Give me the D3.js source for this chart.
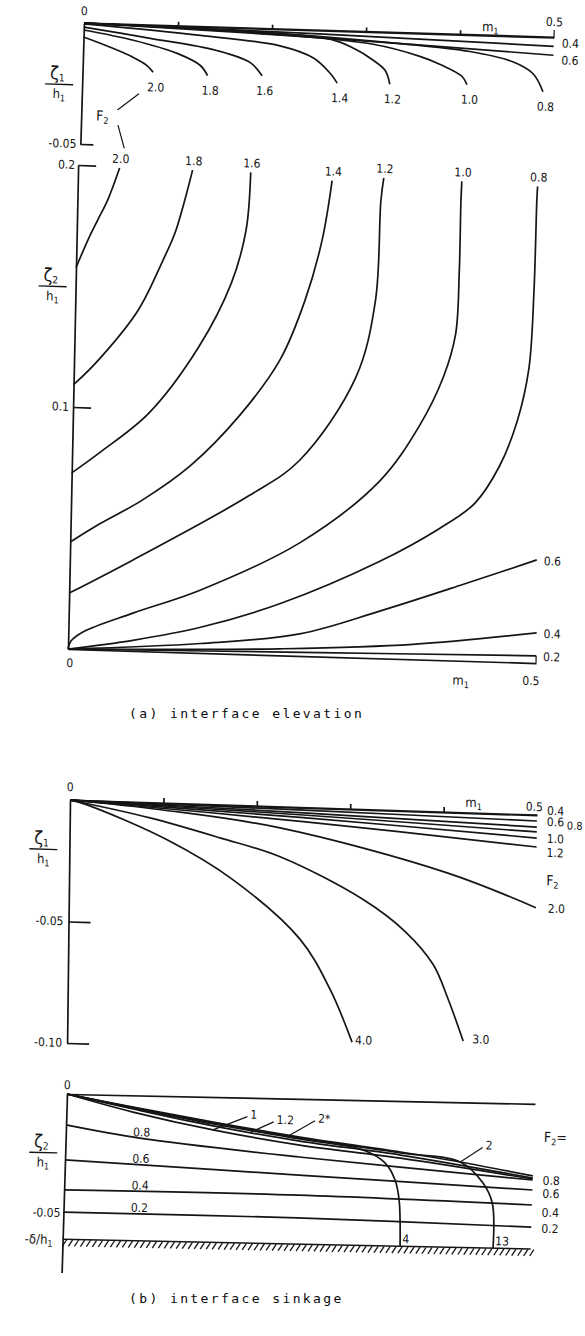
<!DOCTYPE html>
<html>
<head>
<meta charset="utf-8">
<script src="https://cdn.jsdelivr.net/npm/d3@7/dist/d3.min.js"></script>
<style>
  body { margin: 0; background: #fff; }
  svg { display: block; }
  text { font-family: "DejaVu Sans Condensed", "DejaVu Sans", sans-serif; fill: #151515; font-size: 12px; }
  .cap { font-family: "DejaVu Sans Mono", monospace; font-size: 13px; letter-spacing: 2.4px; fill: #0a0a0a; }
</style>
</head>
<body>
<svg id="chart" width="585" height="1336"></svg>
<script>
// m1 runs 0..0.5 on all four plots
var m1Ticks = [0.1, 0.2, 0.3, 0.4];

// (a) interface elevation, top plot: zeta1/h1 against m1, one curve per F2
var elevTopF2 = ['0.4', '0.6', '0.8', '1.0', '1.2', '1.4', '1.6', '1.8', '2.0'];
var elevTop = [
  [[0, 0], [0.25, -0.0016], [0.5, -0.0038]],
  [[0, 0], [0.25, -0.0031], [0.5, -0.0075]],
  [[0, 0], [0.177, -0.0015], [0.334, -0.0045], [0.411, -0.007], [0.457, -0.0107], [0.479, -0.0154], [0.490, -0.0227]],
  [[0, 0], [0.177, -0.0019], [0.308, -0.0052], [0.358, -0.0096], [0.380, -0.0127], [0.4036, -0.0174], [0.409, -0.0207]],
  [[0, 0], [0.124, -0.0012], [0.262, -0.0036], [0.289, -0.0074], [0.307, -0.0114], [0.3215, -0.0158], [0.327, -0.0215]],
  [[0, -0.0004], [0.124, -0.0037], [0.209, -0.007], [0.245, -0.0116], [0.263, -0.0176], [0.271, -0.0217]],
  [[0, -0.0017], [0.071, -0.0055], [0.142, -0.0097], [0.178, -0.0143], [0.191, -0.0196]],
  [[0, -0.0029], [0.053, -0.0065], [0.100, -0.0114], [0.125, -0.0161], [0.133, -0.0202]],
  [[0, -0.0058], [0.028, -0.0096], [0.053, -0.0135], [0.068, -0.0167], [0.075, -0.0195]]
];

// (a) bottom plot: zeta2/h1
var elevBotF2 = ['0.2', '0.4', '0.6', '0.8', '1.0', '1.2', '1.4', '1.6', '1.8', '2.0'];
var elevBot = [
  [[0, 0], [0.25, 0.0015], [0.5, 0.003]],
  [[0, 0], [0.12, 0.0012], [0.2265, 0.0027], [0.368, 0.0062], [0.5, 0.0125]],
  [[0, 0], [0.141, 0.0039], [0.247, 0.0091], [0.332, 0.0195], [0.42, 0.0315], [0.4985, 0.0426]],
  [[0, 0], [0.069, 0.0044], [0.140, 0.0105], [0.225, 0.0213], [0.331, 0.0401], [0.394, 0.0544], [0.4308, 0.0651], [0.4564, 0.0807], [0.4744, 0.0995], [0.4858, 0.1215], [0.4895, 0.1534], [0.4905, 0.1906], [0.491, 0.1968]],
  [[0, 0], [0.003, 0.0033], [0.0156, 0.0072], [0.0685, 0.0156], [0.139, 0.0258], [0.245, 0.0467], [0.329, 0.0732], [0.370, 0.0964], [0.395, 0.1173], [0.4068, 0.1348], [0.4093, 0.1608], [0.4095, 0.1898], [0.41, 0.198]],
  [[0, 0.0231], [0.067, 0.0375], [0.190, 0.0656], [0.2426, 0.0806], [0.301, 0.1155], [0.3204, 0.1475], [0.324, 0.1889], [0.3266, 0.1985]],
  [[0, 0.0442], [0.0307, 0.052], [0.076, 0.0624], [0.1263, 0.0771], [0.1785, 0.0988], [0.22, 0.1221], [0.2454, 0.1471], [0.2622, 0.1721], [0.2715, 0.1967]],
  [[0, 0.0728], [0.0287, 0.0813], [0.0811, 0.0984], [0.1326, 0.1262], [0.1661, 0.153], [0.1807, 0.1751], [0.1844, 0.1991]],
  [[0, 0.1092], [0.0262, 0.1198], [0.0675, 0.1409], [0.0928, 0.1618], [0.1049, 0.1731], [0.1146, 0.1868], [0.1223, 0.1993]],
  [[0, 0.1576], [0.0122, 0.1692], [0.0222, 0.1776], [0.0324, 0.186], [0.0443, 0.1993]]
];

// (b) interface sinkage, top plot: zeta1/h1
var sinkTopF2 = ['0.4', '0.6', '0.8', '1.0', '1.2', '2.0', '3.0', '4.0'];
var sinkTop = [
  [[0, 0], [0.25, -0.0011], [0.5, -0.0025]],
  [[0, 0], [0.25, -0.0022], [0.5, -0.005]],
  [[0, 0], [0.25, -0.0031], [0.5, -0.007]],
  [[0, 0], [0.25, -0.0042], [0.5, -0.0095]],
  [[0, 0], [0.25, -0.0058], [0.5, -0.0132]],
  [[0, 0], [0.0997, -0.0029], [0.2252, -0.0087], [0.4046, -0.025], [0.5, -0.0382]],
  [[0, 0], [0.0859, -0.0063], [0.1611, -0.0136], [0.2256, -0.0206], [0.315, -0.0371], [0.3604, -0.0497], [0.3908, -0.0629], [0.4073, -0.077], [0.4239, -0.094]],
  [[0, 0], [0.0183, -0.0018], [0.1044, -0.0151], [0.1756, -0.0307], [0.2481, -0.0543], [0.2808, -0.0745], [0.305, -0.0959]]
];

// (b) bottom plot: zeta2/h1, the bed lies at -delta/h1
var sinkBotF2 = ['0.2', '0.4', '0.6', '0.8', '1', '1.2', '2', '4', '13'];
var sinkBot = [
  [[0, -0.0496], [0.25, -0.05], [0.5, -0.0518]],
  [[0, -0.0403], [0.25, -0.0404], [0.5, -0.0425]],
  [[0, -0.0277], [0.25, -0.032], [0.5, -0.0362]],
  [[0, -0.013], [0.079, -0.0179], [0.25, -0.0244], [0.5, -0.032]],
  [[0, 0], [0.071, -0.007], [0.157, -0.0138], [0.25, -0.0194], [0.358, -0.024], [0.5, -0.0316]],
  [[0, 0], [0.071, -0.0057], [0.157, -0.0121], [0.25, -0.0177], [0.358, -0.0227], [0.5, -0.0312]],
  [[0, 0], [0.071, -0.0049], [0.157, -0.0105], [0.25, -0.016], [0.358, -0.0214], [0.422, -0.0251], [0.5, -0.0303]],
  [[0, 0], [0.071, -0.0053], [0.157, -0.0113], [0.25, -0.0168], [0.318, -0.0209], [0.342, -0.0262], [0.353, -0.0332], [0.358, -0.0416], [0.3605, -0.061]],
  [[0, 0], [0.071, -0.0051], [0.157, -0.0109], [0.25, -0.0164], [0.358, -0.0218], [0.422, -0.0251], [0.447, -0.0337], [0.4576, -0.0421], [0.4598, -0.061]]
];
var deltaH1 = 0.061;

var svg = d3.select('#chart');
var ink = '#151515';

// each plot sits in its own slightly skewed frame, like the scan
function panel(ox, oy, b, c, xLen, yDom, yRng) {
  var g = svg.append('g').attr('transform', 'matrix(1,' + b + ',' + c + ',1,' + ox + ',' + oy + ')');
  return {
    g: g,
    x: d3.scaleLinear().domain([0, 0.5]).range([0, xLen]),
    y: d3.scaleLinear().domain(yDom).range(yRng)
  };
}

function drawCurves(p, curves) {
  var line = d3.line()
    .x(function(d) { return p.x(d[0]); })
    .y(function(d) { return p.y(d[1]); })
    .curve(d3.curveCatmullRom.alpha(0.5));
  p.g.selectAll('path.curve').data(curves).enter().append('path')
    .attr('class', 'curve')
    .attr('d', line)
    .attr('fill', 'none')
    .attr('stroke', ink)
    .attr('stroke-width', 1.7);
}

function styleAxis(sel) {
  sel.selectAll('path, line').attr('stroke', ink).attr('stroke-width', 1.7);
  sel.selectAll('text').remove();
}

function txt(g, x, y, s, anchor) {
  return g.append('text').attr('x', x).attr('y', y).attr('text-anchor', anchor || 'middle').text(s);
}

function subTxt(g, x, y, main, sub, anchor, size) {
  var t = g.append('text').attr('x', x).attr('y', y).attr('text-anchor', anchor || 'start')
    .style('font-size', (size || 13) + 'px');
  t.append('tspan').text(main);
  t.append('tspan').attr('dy', 3).style('font-size', '9px').text(sub);
  return t;
}

function fraction(g, cx, barY, sub) {
  var top = g.append('text').attr('x', cx - 2).attr('y', barY - 5).attr('text-anchor', 'middle')
    .style('font-size', '18px');
  top.append('tspan').text('ζ');
  top.append('tspan').attr('dy', 2).style('font-size', '10px').text(sub);
  g.append('line').attr('x1', cx - 14).attr('x2', cx + 14).attr('y1', barY).attr('y2', barY)
    .attr('stroke', ink).attr('stroke-width', 1.4);
  var bot = g.append('text').attr('x', cx).attr('y', barY + 14).attr('text-anchor', 'middle')
    .style('font-size', '13px');
  bot.append('tspan').text('h');
  bot.append('tspan').attr('dy', 3).style('font-size', '9px').text('1');
}

function last(pts) { return pts[pts.length - 1]; }

function valueAt(pts, m) {
  for (var i = 1; i < pts.length; i++) {
    if (pts[i][0] >= m) {
      var t = (m - pts[i - 1][0]) / (pts[i][0] - pts[i - 1][0]);
      return pts[i - 1][1] + t * (pts[i][1] - pts[i - 1][1]);
    }
  }
  return last(pts)[1];
}

// ---------- (a) top ----------
var aT = panel(84, 23, 0.03, -0.03, 470, [0, -0.05], [0, 121]);
aT.g.append('g').call(d3.axisTop(aT.x).tickValues(m1Ticks).tickSize(4).tickSizeOuter(0).tickFormat('')).call(styleAxis);
aT.g.select('.domain').attr('stroke-width', 2.4);
aT.g.append('g').call(d3.axisRight(aT.y).tickValues([-0.05]).tickSize(13).tickSizeOuter(0).tickFormat('')).call(styleAxis);
aT.g.append('line').attr('x1', aT.x(0.5)).attr('x2', aT.x(0.5)).attr('y1', -7).attr('y2', 0)
  .attr('stroke', ink).attr('stroke-width', 1.2);
drawCurves(aT, elevTop);
txt(aT.g, 0, -8, '0');
txt(aT.g, aT.x(0.5), -11, '0.5');
subTxt(aT.g, aT.x(0.432), -4, 'm', '1', 'middle');
txt(aT.g, -4, aT.y(-0.05) + 4, '-0.05', 'end');
fraction(aT.g, -23, 62, '1');
elevTop.forEach(function(pts, i) {
  var e = last(pts);
  if (i < 2) {
    txt(aT.g, aT.x(e[0]) + 8, aT.y(e[1]) + (i === 0 ? 1 : 9), elevTopF2[i], 'start');
  } else {
    txt(aT.g, aT.x(e[0]) + 3, aT.y(e[1]) + 19, elevTopF2[i]);
  }
});
subTxt(aT.g, 15, 97, 'F', '2', 'start', 14);
aT.g.append('line').attr('x1', 36).attr('y1', 86).attr('x2', 57).attr('y2', 69).attr('stroke', ink).attr('stroke-width', 1.2);
aT.g.append('line').attr('x1', 37).attr('y1', 101).attr('x2', 44).attr('y2', 124).attr('stroke', ink).attr('stroke-width', 1.2);

// ---------- (a) bottom ----------
var aB = panel(68, 649, 0.03, -0.021, 468, [0, 0.2], [0, -484]);
aB.g.append('g').call(d3.axisBottom(aB.x).tickValues([]).tickSizeOuter(0)).call(styleAxis);
aB.g.append('g').call(d3.axisRight(aB.y).tickValues([0.1, 0.2]).tickSize(18).tickSizeOuter(0).tickFormat('')).call(styleAxis);
aB.g.append('line').attr('x1', aB.x(0.5)).attr('x2', aB.x(0.5)).attr('y1', 0).attr('y2', aB.y(0.003))
  .attr('stroke', ink).attr('stroke-width', 1.2);
drawCurves(aB, elevBot);
txt(aB.g, 2, 18, '0');
subTxt(aB.g, aB.x(0.42), 24, 'm', '1', 'middle');
txt(aB.g, aB.x(0.495), 22, '0.5');
txt(aB.g, -4, aB.y(0.1) + 4, '0.1', 'end');
txt(aB.g, -3, aB.y(0.2) + 4, '0.2', 'end');
fraction(aB.g, -23, -362, '2');
elevBot.forEach(function(pts, i) {
  var e = last(pts);
  if (i < 3) {
    txt(aB.g, aB.x(e[0]) + 7, aB.y(e[1]) + 5, elevBotF2[i], 'start');
  } else {
    txt(aB.g, aB.x(e[0]) + 1, aB.y(e[1]) - 5, elevBotF2[i]);
  }
});

svg.append('text').attr('class', 'cap').attr('x', 129).attr('y', 718).text('(a) interface elevation');

// ---------- (b) top ----------
var bT = panel(70, 800, 0.032, -0.012, 467, [0, -0.1], [0, 243]);
bT.g.append('g').call(d3.axisTop(bT.x).tickValues(m1Ticks).tickSize(5).tickSizeOuter(0).tickFormat('')).call(styleAxis);
bT.g.select('.domain').attr('stroke-width', 2.2);
bT.g.append('g').call(d3.axisRight(bT.y).tickValues([-0.05, -0.1]).tickSize(22).tickSizeOuter(0).tickFormat('')).call(styleAxis);
drawCurves(bT, sinkTop);
txt(bT.g, 0, -9, '0');
subTxt(bT.g, bT.x(0.432), -6, 'm', '1', 'middle');
txt(bT.g, bT.x(0.497), -4, '0.5');
txt(bT.g, -5, bT.y(-0.05) + 4, '-0.05', 'end');
txt(bT.g, -5, bT.y(-0.1) + 4, '-0.10', 'end');
fraction(bT.g, -26, 50, '1');
var bTRight = [[-11, 10], [-6, 10], [-8, 30], [0, 10], [5, 10], [0, 12]];
bTRight.forEach(function(o, i) {
  var e = last(sinkTop[i]);
  var t = txt(bT.g, bT.x(0.5) + o[1], bT.y(e[1]) + o[0] + 4.5, sinkTopF2[i], 'start');
  if (i === 2) t.style('font-size', '11px');
});
subTxt(bT.g, bT.x(0.5) + 10, 70, 'F', '2', 'start', 14);
[6, 7].forEach(function(i) {
  var e = last(sinkTop[i]);
  txt(bT.g, bT.x(e[0]) + (i === 7 ? 3 : 9), bT.y(e[1]) + 2, sinkTopF2[i], 'start');
});

// ---------- (b) bottom ----------
var bB = panel(67, 1094, 0.021, -0.03, 468, [0, -0.075], [0, 178.5]);
bB.g.append('g').call(d3.axisBottom(bB.x).tickValues([]).tickSizeOuter(0)).call(styleAxis);
bB.g.append('g').call(d3.axisRight(bB.y).tickValues([]).tickSizeOuter(0)).call(styleAxis);
// bed line with hatching
bB.g.append('line').attr('x1', 0).attr('x2', bB.x(0.5)).attr('y1', bB.y(-deltaH1)).attr('y2', bB.y(-deltaH1))
  .attr('stroke', ink).attr('stroke-width', 1.4);
bB.g.selectAll('line.hatch').data(d3.range(0, 0.5, 0.0064)).enter().append('line')
  .attr('class', 'hatch')
  .attr('x1', function(d) { return bB.x(d); })
  .attr('x2', function(d) { return bB.x(d) + 4; })
  .attr('y1', bB.y(-deltaH1) + 7)
  .attr('y2', bB.y(-deltaH1) + 0.5)
  .attr('stroke', ink).attr('stroke-width', 1.3);
drawCurves(bB, sinkBot);
txt(bB.g, 0, -5, '0');
fraction(bB.g, -22, 59, '2');
txt(bB.g, -3, bB.y(-0.05) + 4, '-0.05', 'end');
var dl = txt(bB.g, -10, bB.y(-deltaH1) + 5, '', 'end').style('font-size', '13px');
dl.append('tspan').text('-δ/h');
dl.append('tspan').attr('dy', 3).style('font-size', '9px').text('1');
[0, 1, 2, 3].forEach(function(i) {
  txt(bB.g, bB.x(0.081), bB.y(valueAt(sinkBot[i], 0.081)) - 2, sinkBotF2[i]);
  var e = last(sinkBot[i]);
  var dy = [1, 7, 3, 0][i];
  txt(bB.g, bB.x(0.5) + 10, bB.y(e[1]) + dy + 4.5, sinkBotF2[i], 'start');
});
subTxt(bB.g, bB.x(0.5) + 10, 38, 'F', '2', 'start', 14).append('tspan').attr('dy', -3).text('=');
// leader labels on the upper group of curves
var leaders = [[4, 0.157, 34, -14, '1'], [5, 0.197, 23, -11, '1.2'], [6, 0.239, 25, -15, '2*'], [8, 0.422, 22, -15, '2']];
leaders.forEach(function(l) {
  var px = bB.x(l[1]), py = bB.y(valueAt(sinkBot[l[0]], l[1]));
  bB.g.append('line').attr('x1', px).attr('y1', py).attr('x2', px + l[2]).attr('y2', py + l[3])
    .attr('stroke', ink).attr('stroke-width', 1.2);
  txt(bB.g, px + l[2] + 3, py + l[3] + 2, l[4], 'start');
});
[7, 8].forEach(function(i) {
  var e = last(sinkBot[i]);
  txt(bB.g, bB.x(e[0]) + 2, bB.y(e[1]) - 3, sinkBotF2[i], 'start');
});

svg.append('text').attr('class', 'cap').attr('x', 129).attr('y', 1303).text('(b) interface sinkage');
</script>
</body>
</html>
